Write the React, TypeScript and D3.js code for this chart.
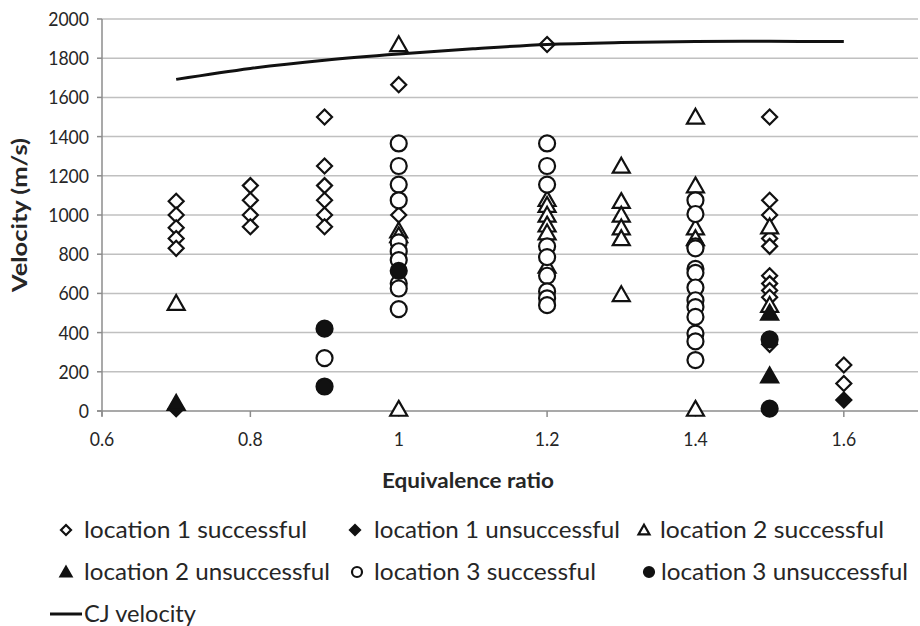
import React from "react";
import * as d3 from "d3";

// Measured detonation velocities by equivalence ratio
const loc1Success: [number, number][] = [
  [0.7, 1070], [0.7, 1000], [0.7, 935], [0.7, 880], [0.7, 830],
  [0.8, 1150], [0.8, 1075], [0.8, 1000], [0.8, 940],
  [0.9, 1500], [0.9, 1250], [0.9, 1150], [0.9, 1075], [0.9, 1000], [0.9, 940],
  [1.0, 1665], [1.0, 1000],
  [1.2, 1870],
  [1.5, 1500], [1.5, 1075], [1.5, 1000], [1.5, 880], [1.5, 840], [1.5, 690],
  [1.5, 650], [1.5, 615], [1.5, 580], [1.5, 340],
  [1.6, 235], [1.6, 140],
];
const loc1Fail: [number, number][] = [
  [0.7, 12], [1.6, 56],
];
const loc2Success: [number, number][] = [
  [0.7, 550],
  [1.0, 1870], [1.0, 920], [1.0, 895], [1.0, 10],
  [1.2, 1080], [1.2, 1050], [1.2, 1000], [1.2, 950], [1.2, 910], [1.2, 740],
  [1.3, 1250], [1.3, 1070], [1.3, 1000], [1.3, 935], [1.3, 880], [1.3, 595],
  [1.4, 1500], [1.4, 1150], [1.4, 935], [1.4, 880], [1.4, 10],
  [1.5, 940], [1.5, 540],
];
const loc2Fail: [number, number][] = [
  [0.7, 40], [1.5, 500], [1.5, 180],
];
const loc3Success: [number, number][] = [
  [0.9, 270],
  [1.0, 1365], [1.0, 1250], [1.0, 1155], [1.0, 1075], [1.0, 860], [1.0, 815],
  [1.0, 770], [1.0, 650], [1.0, 625], [1.0, 520],
  [1.2, 1365], [1.2, 1250], [1.2, 1155], [1.2, 840], [1.2, 785], [1.2, 690],
  [1.2, 610], [1.2, 575], [1.2, 540],
  [1.4, 1075], [1.4, 1005], [1.4, 840], [1.4, 830], [1.4, 725], [1.4, 705],
  [1.4, 630], [1.4, 565], [1.4, 530], [1.4, 480], [1.4, 395], [1.4, 355], [1.4, 260],
];
const loc3Fail: [number, number][] = [
  [0.9, 420], [0.9, 125], [1.0, 715], [1.5, 365], [1.5, 12],
];
const cjPhi = [0.7, 0.8, 0.9, 1.0, 1.1, 1.2, 1.3, 1.4, 1.5, 1.6];
const cjVelocity = [1692, 1748, 1790, 1822, 1848, 1870, 1880, 1885, 1886, 1885];

const xTicks = [0.6, 0.8, 1, 1.2, 1.4, 1.6];
const yTicks = [0, 200, 400, 600, 800, 1000, 1200, 1400, 1600, 1800, 2000];

const legendLabels = [
  "location 1 successful",
  "location 1 unsuccessful",
  "location 2 successful",
  "location 2 unsuccessful",
  "location 3 successful",
  "location 3 unsuccessful",
  "CJ velocity",
];

type Shape = "diamond" | "triangle" | "circle";

const FONT = "Lato, 'Open Sans', sans-serif";
const TEXT = "#262626";
const SQUEEZE = 0.88;

function markerPath(shape: Shape, s: number): string {
  if (shape === "diamond") {
    return `M0,${-s}L${s},0L0,${s}L${-s},0Z`;
  }
  if (shape === "triangle") {
    const h = s * 1.75;
    return `M0,${-h * 0.55}L${s},${h * 0.45}L${-s},${h * 0.45}Z`;
  }
  return d3.arc()({ innerRadius: 0, outerRadius: s, startAngle: 0, endAngle: 2 * Math.PI }) as string;
}

function Marker({ shape, filled, x, y, s }: { shape: Shape; filled: boolean; x: number; y: number; s: number }) {
  return (
    <path
      d={markerPath(shape, s)}
      transform={`translate(${x},${y})`}
      fill={filled ? "#111" : "#fff"}
      stroke="#111"
      strokeWidth={2.2}
    />
  );
}

// Horizontally condensed tick label
function Tick({ x, y, anchor, children }: { x: number; y: number; anchor: "middle" | "end"; children: React.ReactNode }) {
  return (
    <text
      transform={`translate(${x},${y}) scale(${SQUEEZE},1)`}
      dy="0.35em"
      textAnchor={anchor}
      fontFamily={FONT}
      fontSize={20}
      fill={TEXT}
    >
      {children}
    </text>
  );
}

export default function App() {
  const width = 920;
  const height = 626;
  const x = d3.scaleLinear().domain([0.6, 1.7]).range([102, 918]);
  const y = d3.scaleLinear().domain([0, 2000]).range([411, 19]);

  const series: { data: [number, number][]; shape: Shape; filled: boolean; size: number }[] = [
    { data: loc1Success, shape: "diamond", filled: false, size: 7.5 },
    { data: loc1Fail, shape: "diamond", filled: true, size: 7.5 },
    { data: loc2Success, shape: "triangle", filled: false, size: 8.5 },
    { data: loc2Fail, shape: "triangle", filled: true, size: 8.5 },
    { data: loc3Success, shape: "circle", filled: false, size: 8 },
    { data: loc3Fail, shape: "circle", filled: true, size: 8 },
  ];

  const line = d3
    .line<number>()
    .x((_, i) => x(cjPhi[i]))
    .y((v) => y(v))
    .curve(d3.curveCatmullRom.alpha(0.5));

  const legendPos = [
    { mx: 66, tx: 84, ty: 530, w: 223 },
    { mx: 355, tx: 374, ty: 530, w: 246 },
    { mx: 644, tx: 660, ty: 530, w: 224 },
    { mx: 66, tx: 84, ty: 572, w: 246 },
    { mx: 357, tx: 374, ty: 572, w: 222 },
    { mx: 649, tx: 661, ty: 572, w: 247 },
  ];

  return (
    <svg width={width} height={height} style={{ position: "absolute", left: 0, top: 0, background: "#fff" }}>
      {/* horizontal gridlines */}
      {yTicks.slice(1).map((t) => (
        <line key={t} x1={x(0.6)} x2={x(1.7)} y1={y(t)} y2={y(t)} stroke="#c0c0c0" strokeWidth={1.5} />
      ))}
      {/* axes */}
      <line x1={x(0.6)} x2={x(0.6)} y1={y(2000)} y2={y(0) + 5} stroke="#8c8c8c" strokeWidth={1.5} />
      <line x1={x(0.6) - 5} x2={x(1.7)} y1={y(0)} y2={y(0)} stroke="#8c8c8c" strokeWidth={1.5} />
      {yTicks.map((t) => (
        <line key={t} x1={x(0.6) - 5} x2={x(0.6)} y1={y(t)} y2={y(t)} stroke="#8c8c8c" strokeWidth={1.5} />
      ))}
      {xTicks.map((t) => (
        <line key={t} x1={x(t)} x2={x(t)} y1={y(0)} y2={y(0) + 6} stroke="#8c8c8c" strokeWidth={1.5} />
      ))}
      {/* tick labels */}
      {yTicks.map((t) => (
        <Tick key={t} x={89} y={y(t)} anchor="end">
          {t}
        </Tick>
      ))}
      {xTicks.map((t) => (
        <Tick key={t} x={x(t)} y={439} anchor="middle">
          {d3.format("")(t)}
        </Tick>
      ))}
      {/* axis titles */}
      <text
        x={468}
        y={481}
        dy="0.35em"
        textAnchor="middle"
        fontFamily={FONT}
        fontSize={21}
        fontWeight="bold"
        fill={TEXT}
        textLength={172}
        lengthAdjust="spacingAndGlyphs"
      >
        Equivalence ratio
      </text>
      <text
        transform="translate(20,215) rotate(-90)"
        dy="0.35em"
        textAnchor="middle"
        fontFamily={FONT}
        fontSize={21}
        fontWeight="bold"
        fill={TEXT}
        textLength={154}
        lengthAdjust="spacingAndGlyphs"
      >
        Velocity (m/s)
      </text>
      {/* measurement markers */}
      {series.map((s, si) => (
        <g key={si}>
          {s.data.map(([px, py], i) => (
            <Marker key={i} shape={s.shape} filled={s.filled} x={x(px)} y={y(py)} s={s.size} />
          ))}
        </g>
      ))}
      {/* CJ velocity curve */}
      <path d={line(cjVelocity) as string} fill="none" stroke="#111" strokeWidth={3} />
      {/* legend */}
      {series.map((s, i) => {
        const p = legendPos[i];
        return (
          <g key={i}>
            <Marker shape={s.shape} filled={s.filled} x={p.mx} y={p.ty} s={s.shape === "triangle" ? 5.5 : 5} />
            <text
              x={p.tx}
              y={p.ty}
              dy="0.35em"
              fontFamily={FONT}
              fontSize={23}
              fill={TEXT}
              textLength={p.w}
              lengthAdjust="spacingAndGlyphs"
            >
              {legendLabels[i]}
            </text>
          </g>
        );
      })}
      <line x1={50} x2={82} y1={614} y2={614} stroke="#111" strokeWidth={3} />
      <text x={84} y={614} dy="0.35em" fontFamily={FONT} fontSize={23} fill={TEXT} textLength={112} lengthAdjust="spacingAndGlyphs">
        {legendLabels[6]}
      </text>
    </svg>
  );
}
